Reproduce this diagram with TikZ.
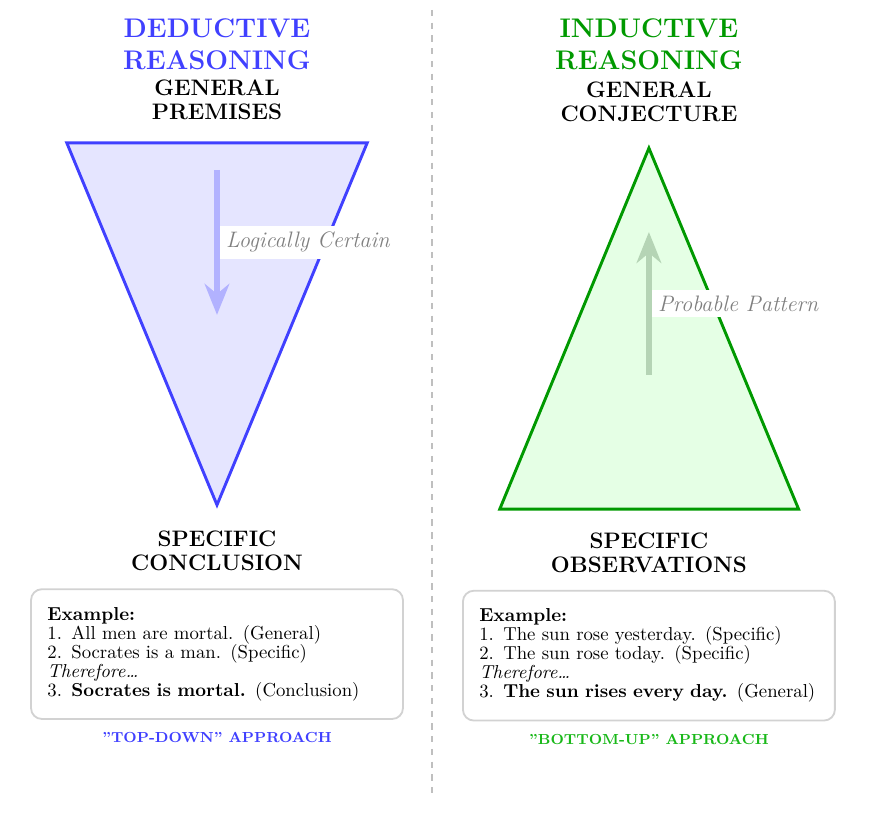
\documentclass[tikz,border=0pt]{standalone}
\usepackage{amsmath}
\usepackage{amssymb}
\usepackage{color}
\usetikzlibrary{arrows.meta,calc}

\definecolor{dedblue}{rgb}{0.25,0.25,1}
\definecolor{indgreen}{rgb}{0,0.6,0}
\definecolor{upgreen}{rgb}{0.1,0.72,0.1}
\definecolor{indarrow}{rgb}{0.71,0.83,0.71}

\tikzset{
  title/.style={align=center, font=\fontsize{14.8}{17.6}\selectfont\bfseries, inner sep=1pt},
  head/.style={align=center, font=\fontsize{12.3}{13.4}\selectfont\bfseries, inner sep=1pt},
  flow/.style={line width=3pt, -{Stealth[length=17pt,width=13.5pt]}},
  lbl/.style={fill=white, text=gray, font=\fontsize{12.3}{14}\selectfont\itshape},
  example/.style={draw=gray!35, line width=1pt, fill=white, rounded corners=6pt,
    text width=6.55cm, align=left, inner xsep=9pt, inner ysep=10pt,
    font=\fontsize{10.3}{10.4}\selectfont},
  approach/.style={font=\footnotesize\bfseries}
}

\begin{document}
\begin{tikzpicture}
            \useasboundingbox (0,0) rectangle (16.78,-16.1);
            \coordinate (SepTop) at (8.34,-0.19);
            \coordinate (SepBot) at (8.34,-15.44);
            \draw[gray!50, line width=1pt, dash pattern=on 3.5pt off 3.5pt] (SepTop) -- (SepBot);
            \node[title, text=dedblue] (DedTitle) at (4.19,-0.85) {DEDUCTIVE\\REASONING};
            \node[head] (DedTop) at ($(DedTitle)+(0,-1.08)$) {GENERAL\\PREMISES};
            \coordinate (DedL) at (1.29,-2.76);
            \coordinate (DedR) at (7.09,-2.76);
            \coordinate (DedB) at (4.19,-9.75);
            \draw[dedblue, fill=blue!10, line width=1.6pt] (DedL) -- (DedR) -- (DedB) -- cycle;
            \coordinate (DedStart) at (4.19,-3.28);
            \coordinate (DedEnd) at (4.19,-6.08);
            \draw[flow, blue!30] (DedStart) -- (DedEnd);
            \node[lbl, right=1.5pt] (DedLbl) at ($(DedStart)!0.5!(DedEnd)$) {Logically Certain};
            \node[head] (DedBot) at (4.19,-10.63) {SPECIFIC\\CONCLUSION};
            \node[example] (DedEx) at (4.19,-12.63) {\textbf{Example:}\\
              1. All men are mortal. (General)\\
              2. Socrates is a man. (Specific)\\
              \textit{Therefore\ldots}\\
              3. \textbf{Socrates is mortal.} (Conclusion)};
            \node[approach, text=dedblue] (DedWay) at ($(DedEx)+(0,-1.62)$) {”TOP-DOWN” APPROACH};
            \node[title, text=indgreen] (IndTitle) at (12.53,-0.85) {INDUCTIVE\\REASONING};
            \node[head] (IndTop) at ($(IndTitle)+(0,-1.12)$) {GENERAL\\CONJECTURE};
            \coordinate (IndA) at (12.53,-2.86);
            \coordinate (IndL) at (9.65,-9.83);
            \coordinate (IndR) at (15.42,-9.83);
            \draw[indgreen, fill=green!10, line width=1.6pt] (IndL) -- (IndA) -- (IndR) -- cycle;
            \coordinate (IndStart) at (12.53,-7.24);
            \coordinate (IndEnd) at (12.53,-4.48);
            \draw[flow, indarrow] (IndStart) -- (IndEnd);
            \node[lbl, right=1.5pt] (IndLbl) at ($(IndStart)!0.5!(IndEnd)$) {Probable Pattern};
            \node[head] (IndBot) at (12.53,-10.68) {SPECIFIC\\OBSERVATIONS};
            \node[example] (IndEx) at (12.53,-12.66) {\textbf{Example:}\\
              1. The sun rose yesterday. (Specific)\\
              2. The sun rose today. (Specific)\\
              \textit{Therefore\ldots}\\
              3. \textbf{The sun rises every day.} (General)};
            \node[approach, text=upgreen] (IndWay) at ($(IndEx)+(0,-1.62)$) {”BOTTOM-UP” APPROACH};
        \end{tikzpicture}
\end{document}
